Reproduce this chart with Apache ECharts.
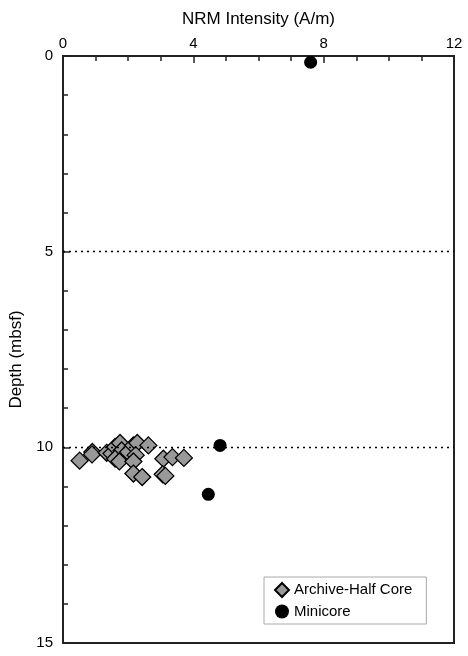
<!DOCTYPE html>
<html>
<head>
<meta charset="utf-8">
<script src="https://cdn.jsdelivr.net/npm/echarts@6/dist/echarts.min.js"></script>
<style>
html,body{margin:0;padding:0;background:#fff;}
#c{width:468px;height:656px;}
</style>
</head>
<body>
<div id="c"></div>
<script>
// Archive-half core: [intensity A/m, depth mbsf]
const archiveIntensity = [0.51, 0.90, 0.89, 1.34, 1.49, 1.60, 1.75, 1.80, 1.60, 1.73, 2.00, 2.16, 2.28, 2.23, 2.16, 2.16, 2.43, 2.62, 3.08, 3.36, 3.71, 3.06, 3.14];
const archiveDepth     = [10.34, 10.12, 10.18, 10.14, 10.16, 9.99, 9.89, 10.08, 10.29, 10.36, 10.12, 9.95, 9.89, 10.20, 10.36, 10.67, 10.76, 9.95, 10.29, 10.25, 10.27, 10.69, 10.73];
// Minicore
const miniIntensity = [7.60, 4.82, 4.46];
const miniDepth     = [0.16, 9.95, 11.20];
// Reference lines
const refDepths = [5, 10];
const xTicks = [0, 4, 8, 12];
const yTicks = [0, 5, 10, 15];

const font = 'Liberation Sans, Arial, Helvetica, sans-serif';
const chart = echarts.init(document.getElementById('c'), null, {renderer: 'canvas'});
chart.setOption({
  animation: false,
  backgroundColor: '#fff',
  grid: {left: 63, top: 56, width: 391, height: 587, show: true, borderColor: '#222', borderWidth: 2, backgroundColor: 'transparent'},
  xAxis: {
    type: 'value', position: 'top', min: xTicks[0], max: xTicks[xTicks.length-1], interval: 4,
    name: 'NRM Intensity (A/m)', nameLocation: 'middle', nameGap: 28,
    nameTextStyle: {fontFamily: font, fontSize: 17, color: '#000'},
    axisLine: {show: true, lineStyle: {color: '#222', width: 2}},
    axisTick: {show: true, inside: true, length: 7, lineStyle: {color: '#222', width: 1.5}},
    minorTick: {show: true, splitNumber: 4, length: 5, lineStyle: {color: '#222', width: 1.5}},
    axisLabel: {fontFamily: font, fontSize: 15, color: '#000', margin: 5, showMinLabel: true, showMaxLabel: true},
    splitLine: {show: false}
  },
  yAxis: {
    type: 'value', inverse: true, min: yTicks[0], max: yTicks[yTicks.length-1], interval: 5,
    name: 'Depth (mbsf)', nameLocation: 'middle', nameGap: 38,
    nameTextStyle: {fontFamily: font, fontSize: 17, color: '#000', padding: [0, 20, 0, 0]},
    axisLine: {show: true, lineStyle: {color: '#222', width: 2}},
    axisTick: {show: true, inside: true, length: 7, lineStyle: {color: '#222', width: 1.5}},
    minorTick: {show: true, splitNumber: 5, length: 5, lineStyle: {color: '#222', width: 1.5}},
    axisLabel: {fontFamily: font, fontSize: 15, color: '#000', margin: 10},
    splitLine: {show: false}
  },
  legend: {
    left: 264, top: 577, orient: 'vertical',
    backgroundColor: '#fff', borderColor: '#aaa', borderWidth: 1, borderRadius: 0,
    padding: [5, 14, 5, 10], itemGap: 6, itemWidth: 14, itemHeight: 14,
    textStyle: {fontFamily: font, fontSize: 15, color: '#000'},
    data: [
      {name: 'Archive-Half Core', icon: 'diamond'},
      {name: 'Minicore', icon: 'circle'}
    ]
  },
  series: [
    {
      name: 'Archive-Half Core', type: 'scatter', symbol: 'diamond', symbolSize: 17,
      itemStyle: {color: '#999', borderColor: '#000', borderWidth: 1.3, opacity: 1},
      data: archiveIntensity.map((v, i) => [v, archiveDepth[i]]),
      markLine: {
        silent: true, symbol: 'none', label: {show: false},
        lineStyle: {color: '#000', type: [2, 4], width: 1.3},
        data: refDepths.map(d => ({yAxis: d}))
      },
      z: 3
    },
    {
      name: 'Minicore', type: 'scatter', symbol: 'circle', symbolSize: 13,
      itemStyle: {color: '#000', opacity: 1},
      data: miniIntensity.map((v, i) => [v, miniDepth[i]]),
      z: 4
    }
  ]
});
</script>
</body>
</html>
